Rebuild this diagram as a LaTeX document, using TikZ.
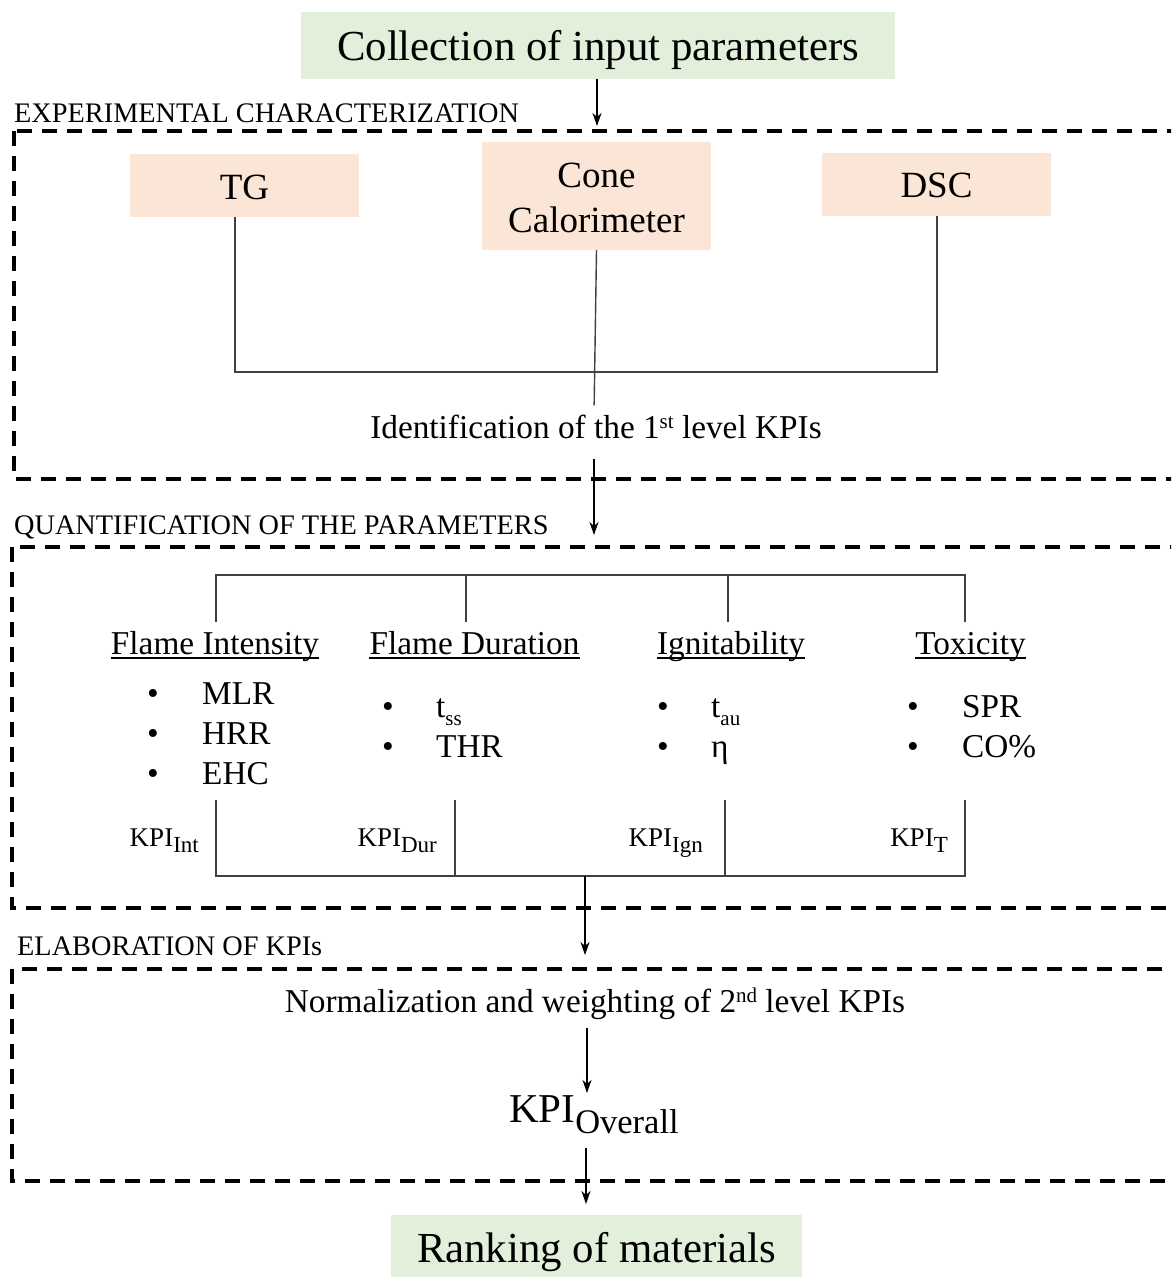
\documentclass[tikz,border=0pt]{standalone}
\usepackage{fontspec}
\setmainfont{Liberation Serif}
\usetikzlibrary{arrows.meta,calc}
\definecolor{gfill}{HTML}{E2EFDA}
\definecolor{pfill}{HTML}{FBE5D6}
\definecolor{lncol}{HTML}{404040}
\newcommand{\kpisub}[3]{KPI\raisebox{-#3pt}{\fontsize{#2}{#2}\selectfont #1}}
\newcommand{\lowsub}[1]{\raisebox{-8pt}{\fontsize{21}{21}\selectfont #1}}
\newcommand{\highsup}[1]{\raisebox{10pt}{\fontsize{21}{21}\selectfont #1}}
\begin{document}
\begin{tikzpicture}[x=1pt,y=-1pt,
  gbox/.style={fill=gfill, inner sep=0, text depth=0pt, font=\fontsize{42.8}{50}\selectfont},
  pbox/.style={fill=pfill, inner sep=0, minimum width=229pt, font=\fontsize{37}{45}\selectfont, align=center},
  seclab/.style={anchor=west, inner sep=0, font=\fontsize{28.3}{34}\selectfont},
  dbox/.style={line width=3.5pt, dash pattern=on 15pt off 10pt},
  ln/.style={draw=lncol, line width=1.4pt},
  arr/.style={draw=black, line width=1.4pt, -{Stealth[length=13pt,width=9pt,inset=4pt]}},
  body/.style={inner sep=0, font=\fontsize{33.3}{40}\selectfont},
  hdr/.style={body, anchor=base},
  itm/.style={body, anchor=base west},
  bul/.style={body, anchor=base},
  kpis/.style={inner sep=0, anchor=base east, font=\fontsize{27}{32}\selectfont},
  uline/.style={line width=2pt}
]
\useasboundingbox (0,0) rectangle (1171,1277);
\clip (0,0) rectangle (1171,1277);

% top box
\node[gbox, minimum width=594pt, minimum height=67pt] (coll) at (598,45.5) {Collection of input parameters};
\coordinate (a1) at (597,126);
\draw[arr] (coll.south -| a1) -- (a1);

% section 1
\node[seclab] (s1) at (14,113) {EXPERIMENTAL CHARACTERIZATION};
\draw[dbox] (14,131) rectangle (1200,479);

\node[pbox, minimum height=63pt, text height=28pt, text depth=0pt] (tg) at (244.5,185.5) {TG};
\node[pbox, minimum height=108pt, text height=72pt, text depth=0pt] (cone) at (596.5,196) {Cone\\Calorimeter};
\node[pbox, minimum height=63pt, text height=26pt, text depth=0pt] (dsc) at (936.5,184.5) {DSC};

\coordinate (j1) at (235,372);
\coordinate (j2) at (937,372);
\draw[ln] (tg.south -| j1) -- (j1) -- (j2) -- (dsc.south -| j2);

\node[body, anchor=base] (ident) at (596,438) {Identification of the 1\highsup{st} level KPIs};
\draw[ln, shorten >=9pt] (cone.south) -- ([xshift=-2pt]ident.north);

\coordinate (a2) at (594,535);
\draw[arr, shorten <=20pt] (ident.south -| a2) -- (a2);

% section 2
\node[seclab] (s2) at (14,527) {QUANTIFICATION OF THE PARAMETERS};
\draw[dbox] (12,547) rectangle (1200,908);

\coordinate (t1) at (216,575);
\coordinate (t2) at (466,575);
\coordinate (t3) at (728,575);
\coordinate (t4) at (965,575);
\coordinate (u1) at (216,622);
\coordinate (u2) at (466,622);
\coordinate (u3) at (728,622);
\coordinate (u4) at (965,622);
\draw[ln] (u1) -- (t1) -- (t4) -- (u4);
\draw[ln] (t2) -- (u2);
\draw[ln] (t3) -- (u3);

\node[hdr] (h1) at (215,654) {Flame Intensity};
\node[hdr] (h2) at (474.5,654) {Flame Duration};
\node[hdr] (h3) at (731,654) {Ignitability};
\node[hdr] (h4) at (970.5,654) {Toxicity};
\foreach \h in {h1,h2,h3,h4}{
  \draw[uline] ([yshift=-4pt]\h.base west) -- ([yshift=-4pt]\h.base east);
}

% Flame intensity items
\node[bul] (b11) at (153,704) {•};
\node[itm] (i11) at (202,704) {MLR};
\node[bul] (b12) at (153,744) {•};
\node[itm] (i12) at (202,744) {HRR};
\node[bul] (b13) at (153,784) {•};
\node[itm] (i13) at (202,784) {EHC};
% Flame duration items
\node[bul] (b21) at (388,717) {•};
\node[itm] (i21) at (436,717) {t\lowsub{ss}};
\node[bul] (b22) at (388,757) {•};
\node[itm] (i22) at (436,757) {THR};
% Ignitability items
\node[bul] (b31) at (663,717) {•};
\node[itm] (i31) at (711,717) {t\lowsub{au}};
\node[bul] (b32) at (663,757) {•};
\node[itm] (i32) at (711,757) {η};
% Toxicity items
\node[bul] (b41) at (913,717) {•};
\node[itm] (i41) at (962,717) {SPR};
\node[bul] (b42) at (913,757) {•};
\node[itm] (i42) at (962,757) {CO\%};

% KPI labels
\node[kpis] (k1) at (199,846) {\kpisub{Int}{23}{6}};
\node[kpis] (k2) at (437,846) {\kpisub{Dur}{23}{6}};
\node[kpis] (k3) at (703,846) {\kpisub{Ign}{23}{6}};
\node[kpis] (k4) at (948,846) {\kpisub{T}{23}{6}};

\coordinate (v1) at (216,800);
\coordinate (v2) at (455,800);
\coordinate (v3) at (725,800);
\coordinate (v4) at (965,800);
\coordinate (w1) at (216,876);
\coordinate (w2) at (455,876);
\coordinate (w3) at (725,876);
\coordinate (w4) at (965,876);
\draw[ln] (v1) -- (w1) -- (w4) -- (v4);
\draw[ln] (v2) -- (w2);
\draw[ln] (v3) -- (w3);

\coordinate (w5) at (585,876);
\coordinate (a3) at (585,955);
\draw[arr] (w5) -- (a3);

% section 3
\node[seclab] (s3) at (17,946) {ELABORATION OF KPIs};
\draw[dbox] (12,969) rectangle (1200,1181);

\node[body, anchor=base] (norm) at (595,1012) {Normalization and weighting of 2\highsup{nd} level KPIs};
\node[inner sep=0, anchor=base west, font=\fontsize{41}{48}\selectfont] (kpio) at (509,1122) {\kpisub{Overall}{34.5}{11}};

\coordinate (x587) at (587,0);
\draw[arr, shorten <=9pt, shorten >=2pt] (norm.south -| x587) -- (kpio.north -| x587);

\node[gbox, minimum width=411pt, minimum height=64pt] (rank) at (596.5,1247) {Ranking of materials};
\coordinate (a5) at (586,1204);
\draw[arr, shorten <=14pt] (kpio.south -| a5) -- (a5);
\end{tikzpicture}
\end{document}
